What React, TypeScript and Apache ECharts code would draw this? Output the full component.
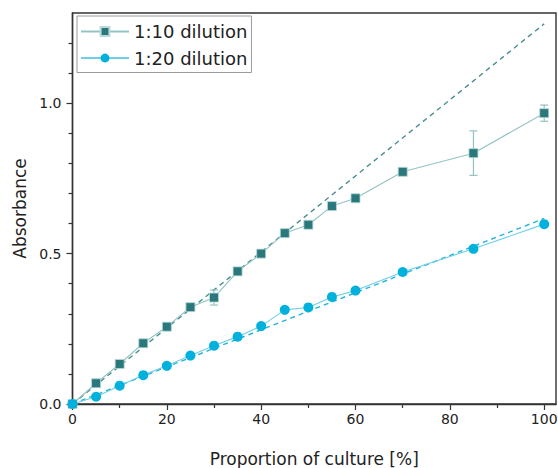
import React, { useEffect, useRef } from "react";
import * as echarts from "echarts";

const proportions = [0, 5, 10, 15, 20, 25, 30, 35, 40, 45, 50, 55, 60, 70, 85, 100];
const abs10 = [0, 0.069, 0.133, 0.202, 0.257, 0.322, 0.354, 0.441, 0.5, 0.568, 0.596, 0.658, 0.684, 0.772, 0.834, 0.967];
const err10 = [0, 0, 0, 0, 0, 0, 0.025, 0, 0, 0, 0, 0, 0, 0, 0.074, 0.027];
const abs20 = [0, 0.024, 0.061, 0.096, 0.127, 0.161, 0.194, 0.224, 0.259, 0.313, 0.321, 0.356, 0.377, 0.439, 0.516, 0.598];
const fit10 = [[0, 0], [100, 1.264]];
const fit20 = [[0, 0], [100, 0.617]];
const xMajorTicks = [0, 20, 40, 60, 80, 100];
const xMinorTicks = [10, 30, 50, 70, 90];
const yMajorTicks = [0, 0.5, 1.0];
const yMinorTicks = [0.1, 0.2, 0.3, 0.4, 0.6, 0.7, 0.8, 0.9, 1.1, 1.2];
const seriesNames = ["1:10 dilution", "1:20 dilution"];

const FONT = "DejaVu Sans";
const AXIS = "#333";

export default function App() {
  const ref = useRef<HTMLDivElement>(null);
  useEffect(() => {
    if (!ref.current) return;
    const chart = echarts.init(ref.current, undefined, { renderer: "svg" });
    const errData = proportions
      .map((x, i) => [x, abs10[i] - err10[i], abs10[i] + err10[i]])
      .filter((d, i) => err10[i] > 0);
    const xBase = { type: "value", min: 0, max: 102.5 };
    const yBase = { type: "value", min: 0, max: 1.3 };
    chart.setOption({
      animation: false,
      backgroundColor: "#fff",
      grid: {
        left: 72.5,
        right: 2,
        top: 13,
        bottom: 64,
        show: true,
        borderColor: AXIS,
        borderWidth: 1.4,
        containLabel: false,
        outerBoundsMode: "none",
      },
      legend: {
        data: seriesNames,
        orient: "vertical",
        left: 77,
        top: 16,
        padding: [5, 4, 4, 3],
        itemGap: 5.5,
        itemWidth: 48,
        itemHeight: 11,
        borderColor: "#9a9a9a",
        borderWidth: 1,
        backgroundColor: "#fff",
        textStyle: { fontFamily: FONT, fontSize: 18, color: "#222", lineHeight: 21 },
      },
      xAxis: [
        {
          ...xBase,
          interval: 20,
          position: "bottom",
          name: "Proportion of culture [%]",
          nameLocation: "middle",
          nameGap: 46,
          nameTextStyle: { fontFamily: FONT, fontSize: 17, color: "#222" },
          axisLine: { show: true, lineStyle: { color: AXIS, width: 1.4 } },
          axisTick: { show: true, inside: false, length: 6, customValues: xMajorTicks, lineStyle: { color: AXIS, width: 1.2 } },
          axisLabel: {
            customValues: xMajorTicks,
            fontFamily: FONT,
            fontSize: 14,
            color: "#222",
            margin: 8,
            formatter: (v: number) => (xMajorTicks.includes(v) ? String(v) : ""),
          },
          splitLine: { show: false },
        },
        {
          ...xBase,
          interval: 10,
          position: "bottom",
          axisLine: { show: false },
          axisTick: { show: true, inside: false, length: 4, customValues: xMinorTicks, lineStyle: { color: AXIS, width: 1.2 } },
          axisLabel: { show: false },
          splitLine: { show: false },
        },
      ],
      yAxis: [
        {
          ...yBase,
          interval: 0.5,
          position: "left",
          name: "Absorbance",
          nameLocation: "middle",
          nameGap: 40,
          nameTextStyle: { fontFamily: FONT, fontSize: 17, color: "#222" },
          axisLine: { show: true, lineStyle: { color: AXIS, width: 1.4 } },
          axisTick: { show: true, inside: false, length: 6, customValues: yMajorTicks, lineStyle: { color: AXIS, width: 1.2 } },
          axisLabel: {
            customValues: yMajorTicks,
            fontFamily: FONT,
            fontSize: 14,
            color: "#222",
            margin: 11,
            formatter: (v: number) =>
              yMajorTicks.some((t) => Math.abs(t - v) < 1e-6) ? v.toFixed(1) : "",
          },
          splitLine: { show: false },
        },
        {
          ...yBase,
          interval: 0.1,
          position: "left",
          axisLine: { show: false },
          axisTick: { show: true, inside: false, length: 4, customValues: yMinorTicks, lineStyle: { color: AXIS, width: 1.2 } },
          axisLabel: { show: false },
          splitLine: { show: false },
        },
      ],
      series: [
        {
          name: "fit10",
          type: "line",
          data: fit10,
          symbol: "none",
          lineStyle: { color: "#4a8f90", width: 1.4, type: [5, 4] },
          z: 1,
          silent: true,
        },
        {
          name: "fit20",
          type: "line",
          data: fit20,
          symbol: "none",
          lineStyle: { color: "#25b2da", width: 1.4, type: [5, 4] },
          z: 1,
          silent: true,
        },
        {
          name: "err10",
          type: "custom",
          data: errData,
          z: 2,
          renderItem: (params: any, api: any) => {
            const x = api.value(0);
            const p1 = api.coord([x, api.value(1)]);
            const p2 = api.coord([x, api.value(2)]);
            const w = 4;
            const style = { stroke: "#94c2c2", lineWidth: 1.2 };
            return {
              type: "group",
              children: [
                { type: "line", shape: { x1: p1[0], y1: p1[1], x2: p2[0], y2: p2[1] }, style },
                { type: "line", shape: { x1: p1[0] - w, y1: p1[1], x2: p1[0] + w, y2: p1[1] }, style },
                { type: "line", shape: { x1: p2[0] - w, y1: p2[1], x2: p2[0] + w, y2: p2[1] }, style },
              ],
            };
          },
        },
        {
          name: seriesNames[0],
          type: "line",
          data: proportions.map((x, i) => [x, abs10[i]]),
          symbol: "rect",
          symbolSize: 9,
          itemStyle: { color: "#2a787b", borderColor: "#b9d9d9", borderWidth: 0.8 },
          lineStyle: { color: "#93c3c3", width: 1.1 },
          z: 3,
        },
        {
          name: seriesNames[1],
          type: "line",
          data: proportions.map((x, i) => [x, abs20[i]]),
          symbol: "circle",
          symbolSize: 10,
          itemStyle: { color: "#00b1dd" },
          lineStyle: { color: "#6fcfe8", width: 1.1 },
          z: 3,
        },
      ],
    });
    return () => chart.dispose();
  }, []);
  return (
    <div
      ref={ref}
      style={{ position: "fixed", left: 0, top: 0, width: 558, height: 468, background: "#fff" }}
    />
  );
}
